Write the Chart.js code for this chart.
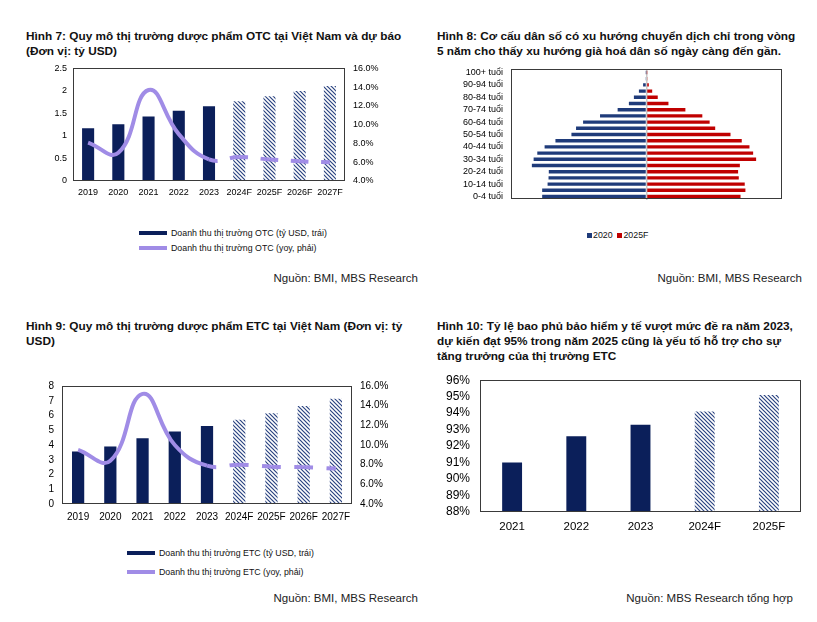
<!DOCTYPE html>
<html>
<head>
<meta charset="utf-8">
<script src="https://cdn.jsdelivr.net/npm/chart.js@4"></script>
<style>
  body { margin: 0; width: 817px; height: 622px; background: #fff; position: relative; overflow: hidden;
         font-family: "Liberation Sans", Arial, sans-serif; color: #111; }
  .abs { position: absolute; white-space: nowrap; }
  .title { font-weight: bold; font-size: 11.8px; line-height: 15px; color: #111; }
  .src { font-size: 11.5px; color: #222; }
  .leg { font-size: 8.8px; color: #111; display: flex; align-items: center; height: 12px; }
  .swatch { display: inline-block; width: 28px; height: 4px; margin-right: 4px; }
  .sq { display: inline-block; width: 5px; height: 5px; margin-right: 1px; }
  canvas { position: absolute; }
</style>
</head>
<body>

<div class="abs title" style="left:26px;top:29px">Hình 7: Quy mô thị trường dược phẩm OTC tại Việt Nam và dự báo<br>(Đơn vị: tỷ USD)</div>
<canvas id="otc" width="390" height="149" style="left:20px;top:55px"></canvas>
<div class="abs leg" style="left:139px;top:227px"><span class="swatch" style="background:#0b1f5a"></span>Doanh thu thị trường OTC (tỷ USD, trái)</div>
<div class="abs leg" style="left:139px;top:242px"><span class="swatch" style="background:#a08ce6"></span>Doanh thu thị trường OTC (yoy, phải)</div>
<div class="abs src" style="right:399px;top:272px">Nguồn: BMI, MBS Research</div>

<div class="abs title" style="left:437px;top:29px">Hình 8: Cơ cấu dân số có xu hướng chuyển dịch chỉ trong vòng<br>5 năm cho thấy xu hướng già hoá dân số ngày càng đến gần.</div>
<canvas id="pyramid" width="350" height="157" style="left:440px;top:56px"></canvas>
<div class="abs leg" style="left:587px;top:229px"><span class="sq" style="background:#1f3b7a"></span>2020&nbsp;&nbsp;<span class="sq" style="background:#c00000"></span>2025F</div>
<div class="abs src" style="right:15px;top:272px">Nguồn: BMI, MBS Research</div>

<div class="abs title" style="left:26px;top:319px">Hình 9: Quy mô thị trường dược phẩm ETC tại Việt Nam (Đơn vị: tỷ<br>USD)</div>
<canvas id="etc" width="390" height="154" style="left:20px;top:372px"></canvas>
<div class="abs leg" style="left:127px;top:547px"><span class="swatch" style="background:#0b1f5a"></span>Doanh thu thị trường ETC (tỷ USD, trái)</div>
<div class="abs leg" style="left:127px;top:566px"><span class="swatch" style="background:#a08ce6"></span>Doanh thu thị trường ETC (yoy, phải)</div>
<div class="abs src" style="right:399px;top:592px">Nguồn: BMI, MBS Research</div>

<div class="abs title" style="left:437px;top:319px">Hình 10: Tỷ lệ bao phủ bảo hiểm y tế vượt mức đề ra năm 2023,<br>dự kiến đạt 95% trong năm 2025 cũng là yếu tố hỗ trợ cho sự<br>tăng trưởng của thị trường ETC</div>
<canvas id="coverage" width="370" height="172" style="left:440px;top:363px"></canvas>
<div class="abs src" style="right:24px;top:592px">Nguồn: MBS Research tổng hợp</div>

<script>
const years = ["2019", "2020", "2021", "2022", "2023", "2024F", "2025F", "2026F", "2027F"];
const otcRevenue = [1.17, 1.26, 1.43, 1.56, 1.66, 1.77, 1.88, 2.0, 2.11];
const otcGrowth = [8.1, 7.0, 13.7, 9.0, 6.3, 6.55, 6.3, 6.1, 6.0];
const etcRevenue = [3.56, 3.9, 4.46, 4.91, 5.29, 5.72, 6.15, 6.64, 7.14];
const etcGrowth = [9.5, 8.4, 15.2, 10.0, 7.9, 8.0, 7.8, 7.75, 7.6];

const ageGroups = ["100+ tuổi", "95-99 tuổi", "90-94 tuổi", "85-89 tuổi", "80-84 tuổi", "75-79 tuổi",
  "70-74 tuổi", "65-69 tuổi", "60-64 tuổi", "55-59 tuổi", "50-54 tuổi", "45-49 tuổi", "40-44 tuổi",
  "35-39 tuổi", "30-34 tuổi", "25-29 tuổi", "20-24 tuổi", "15-19 tuổi", "10-14 tuổi", "5-9 tuổi", "0-4 tuổi"];
const pop2020 = [0.02, 0.07, 0.25, 0.56, 0.93, 1.30, 2.13, 3.43, 4.68, 5.20, 5.54, 6.72, 7.52, 8.06, 8.33, 8.46, 7.21, 7.23, 7.30, 7.70, 7.70];
const pop2025 = [0.02, 0.07, 0.17, 0.42, 0.83, 1.62, 2.87, 4.12, 4.66, 5.07, 6.20, 7.03, 7.60, 7.87, 8.09, 6.89, 6.76, 6.81, 7.25, 7.30, 6.94];

const coverageYears = ["2021", "2022", "2023", "2024F", "2025F"];
const coverage = [91.0, 92.6, 93.3, 94.1, 95.1];

const NAVY = "#0b1f5a";
const LAVENDER = "#a08ce6";
const FIRST_FORECAST = 5;

Chart.defaults.font.family = '"Liberation Sans", Arial, sans-serif';
Chart.defaults.color = "#000";
Chart.defaults.animation = false;
Chart.defaults.plugins.legend.display = false;
Chart.defaults.plugins.tooltip.enabled = false;

function stripes() {
  const c = document.createElement("canvas");
  c.width = 4;
  c.height = 4;
  const g = c.getContext("2d");
  g.fillStyle = "#fff";
  g.fillRect(0, 0, 4, 4);
  g.strokeStyle = "#2a4380";
  g.lineWidth = 1.2;
  g.beginPath();
  g.moveTo(-1, -1); g.lineTo(5, 5);
  g.moveTo(3, -1); g.lineTo(5, 1);
  g.moveTo(-1, 3); g.lineTo(1, 5);
  g.stroke();
  return g.createPattern(c, "repeat");
}

// box round the plot area, like the Excel charts
const frame = {
  id: "frame",
  afterDatasetsDraw(chart) {
    const { ctx, chartArea: a } = chart;
    ctx.save();
    ctx.strokeStyle = "#3a3a3a";
    ctx.lineWidth = 1;
    ctx.strokeRect(Math.round(a.left) + 0.5, Math.round(a.top) + 0.5,
      Math.round(a.width) - 1, Math.round(a.height) - 1);
    ctx.restore();
  },
};

const noGrid = { display: false, drawTicks: false };

function drawCombo(id, revenue, growth, yMax, yStep, geo) {
  const hatch = stripes();
  const forecast = (ctx) => ctx.p0DataIndex >= FIRST_FORECAST - 1;
  new Chart(document.getElementById(id), {
    data: {
      labels: years,
      datasets: [
        {
          type: "line",
          data: growth,
          yAxisID: "y1",
          order: 0,
          borderColor: LAVENDER,
          borderWidth: 4,
          tension: 0.45,
          pointRadius: 0,
          segment: {
            borderDash: (ctx) => {
              if (!forecast(ctx)) return undefined;
              const dx = ctx.p1.x - ctx.p0.x;
              return [dx * 0.58, dx * 0.42];
            },
            borderDashOffset: (ctx) => (forecast(ctx) ? (ctx.p1.x - ctx.p0.x) * 0.29 : 0),
          },
        },
        {
          type: "bar",
          data: revenue,
          yAxisID: "y",
          order: 1,
          backgroundColor: revenue.map((v, i) => (i < FIRST_FORECAST ? NAVY : hatch)),
          barPercentage: geo.bar,
          categoryPercentage: 1,
        },
      ],
    },
    options: {
      responsive: false,
      scales: {
        x: {
          grid: noGrid,
          border: { display: false },
          ticks: { font: { size: geo.font }, padding: geo.xPad, maxRotation: 0, autoSkip: false },
          afterFit: (s) => { s.height = geo.xH; },
        },
        y: {
          position: "left",
          min: 0,
          max: yMax,
          grid: noGrid,
          border: { display: false },
          ticks: { stepSize: yStep, autoSkip: false, font: { size: geo.font }, padding: geo.yPad, callback: (v) => String(v) },
          afterFit: (s) => { s.width = geo.yW; },
        },
        y1: {
          position: "right",
          min: 4,
          max: 16,
          grid: noGrid,
          border: { display: false },
          ticks: { stepSize: 2, autoSkip: false, font: { size: geo.font }, padding: 8, callback: (v) => v.toFixed(1) + "%" },
          afterFit: (s) => { s.width = geo.y1W; },
        },
      },
    },
    plugins: [frame],
  });
}

function drawPyramid() {
  new Chart(document.getElementById("pyramid"), {
    type: "bar",
    data: {
      labels: ageGroups,
      datasets: [
        { label: "2020", data: pop2020.map((v) => -v), backgroundColor: "#1f3b7a", barPercentage: 0.55, categoryPercentage: 1 },
        { label: "2025F", data: pop2025, backgroundColor: "#c00000", barPercentage: 0.55, categoryPercentage: 1 },
      ],
    },
    options: {
      responsive: false,
      indexAxis: "y",
      layout: { padding: { right: 8 } },
      scales: {
        x: {
          stacked: true,
          min: -10,
          max: 10,
          ticks: { display: false, stepSize: 10 },
          border: { display: false },
          grid: {
            drawTicks: false,
            lineWidth: 1.5,
            color: (ctx) => (ctx.tick && ctx.tick.value === 0 ? "#c8c8c8" : "rgba(0,0,0,0)"),
          },
          afterFit: (s) => { s.height = 0; },
        },
        y: {
          stacked: true,
          grid: noGrid,
          border: { display: false },
          ticks: {
            autoSkip: false,
            font: { size: 9 },
            padding: 8,
            callback: (v, i) => (i % 2 === 0 ? ageGroups[i] : ""),
          },
          afterFit: (s) => { s.width = 71; },
        },
      },
    },
    plugins: [frame],
  });
}

function drawCoverage() {
  const hatch = stripes();
  new Chart(document.getElementById("coverage"), {
    type: "bar",
    data: {
      labels: coverageYears,
      datasets: [
        {
          data: coverage,
          backgroundColor: coverage.map((v, i) => (i < 3 ? NAVY : hatch)),
          barPercentage: 0.31,
          categoryPercentage: 1,
        },
      ],
    },
    options: {
      responsive: false,
      layout: { padding: { right: 9 } },
      scales: {
        x: {
          grid: noGrid,
          border: { display: false },
          ticks: { font: { size: 11.5 }, padding: 7.5, maxRotation: 0 },
          afterFit: (s) => { s.height = 23; },
        },
        y: {
          min: 88,
          max: 96,
          grid: noGrid,
          border: { display: false },
          ticks: { stepSize: 1, autoSkip: false, font: { size: 12 }, padding: 10, callback: (v) => v + "%" },
          afterFit: (s) => { s.width = 40; },
        },
      },
    },
    plugins: [frame],
  });
}

drawCombo("otc", otcRevenue, otcGrowth, 2.5, 0.5,
  { bar: 0.4, font: 9, xPad: 6, yPad: 6, xH: 23, yW: 53, y1W: 65 });
drawPyramid();
drawCombo("etc", etcRevenue, etcGrowth, 8, 1,
  { bar: 0.38, font: 10, xPad: 7, yPad: 8, xH: 22, yW: 42, y1W: 58 });
drawCoverage();
</script>
</body>
</html>
